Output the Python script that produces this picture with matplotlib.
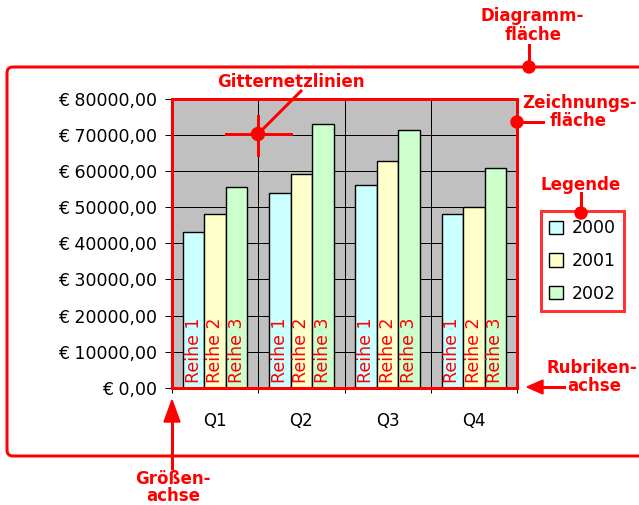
import matplotlib
matplotlib.use('Agg')
import matplotlib.pyplot as plt
from matplotlib.patches import FancyBboxPatch, Rectangle, Polygon, Circle
from matplotlib.ticker import FuncFormatter, MultipleLocator, FixedLocator

quarters = ['Q1', 'Q2', 'Q3', 'Q4']
years = ['2000', '2001', '2002']
series_names = ['Reihe 1', 'Reihe 2', 'Reihe 3']
values_2000 = [43000, 53800, 56100, 48100]
values_2001 = [48000, 59100, 62700, 50100]
values_2002 = [55600, 72900, 71300, 60900]
colors = ['#CCFFFF', '#FFFFCC', '#CCFFCC']

RED = '#FF0000'
W, H = 639, 505
px = 0.72  # 1 pixel in points at dpi 100

plt.rcParams['font.family'] = ['DejaVu Sans']

fig = plt.figure(figsize=(W / 100, H / 100), dpi=100)
fig.patch.set_facecolor('white')

# plot area in pixel coords
L, R, T, B = 172, 517, 98.5, 388
ax = fig.add_axes([L / W, 1 - B / H, (R - L) / W, (B - T) / H])
ax.set_facecolor('#C0C0C0')

bw = 0.25
series = [values_2000, values_2001, values_2002]
bars = []
for i, vals in enumerate(series):
    b = ax.bar([q + (i - 1) * bw for q in range(len(quarters))], vals, width=bw,
               color=colors[i], edgecolor='black', linewidth=1.4 * px, zorder=3,
               label=years[i])
    bars.append(b)
    for q in range(len(quarters)):
        ax.text(q + (i - 1) * bw, 1400, series_names[i], rotation=90,
                ha='center', va='bottom', color=RED, fontsize=12.5, zorder=4)

ax.set_xlim(-0.5, len(quarters) - 0.5)
ax.set_ylim(0, 80000)
ax.yaxis.set_major_locator(MultipleLocator(10000))
ax.yaxis.set_major_formatter(FuncFormatter(lambda v, p: '€ %d,00' % v))
ax.xaxis.set_major_locator(FixedLocator([q - 0.5 for q in range(len(quarters) + 1)]))
ax.xaxis.set_major_formatter(FuncFormatter(lambda v, p: ''))
ax.xaxis.set_minor_locator(FixedLocator(range(len(quarters))))
ax.set_xticklabels(quarters, minor=True)
ax.tick_params(axis='x', which='minor', length=0, pad=17, labelsize=12)
ax.tick_params(axis='x', which='major', length=5 * px, width=1 * px, direction='out')
ax.tick_params(axis='y', length=7 * px, width=1 * px, pad=6, labelsize=12.5)
ax.grid(True, color='black', linewidth=1 * px, zorder=0)
ax.set_axisbelow(True)
for s in ax.spines.values():
    s.set_visible(False)

leg = fig.legend(handles=bars, labels=years, loc='center',
                 bbox_to_anchor=(582.5 / W, 1 - 261 / H), frameon=True,
                 fancybox=False, fontsize=12.5, handlelength=0.8, handleheight=0.8,
                 handletextpad=0.5, labelspacing=0.85, borderpad=0.45)
leg.get_frame().set_edgecolor(RED)
leg.get_frame().set_linewidth(3 * px)
leg.set_zorder(4)

# overlay for the annotations, in pixel coords
ov = fig.add_axes([0, 0, 1, 1], zorder=10)
ov.set_xlim(0, W)
ov.set_ylim(H, 0)
ov.axis('off')
ov.patch.set_visible(False)

lw = 3 * px
ov.add_patch(FancyBboxPatch((7, 67), 700, 389, boxstyle='round,pad=0,rounding_size=6',
                            fill=False, edgecolor=RED, linewidth=lw))
ov.add_patch(Rectangle((L, T), R - L, B - T, fill=False, edgecolor=RED, linewidth=lw))

tk = dict(color=RED, fontsize=12, fontweight='bold', ha='center', va='center')

# Diagrammflaeche
ov.text(532, 16, 'Diagramm-', **tk)
ov.text(533, 35, 'fläche', **tk)
ov.plot([529, 529], [45, 67], color=RED, lw=lw)
ov.add_patch(Circle((529, 67), 6, color=RED))

# Gitternetzlinien
ov.text(291, 82, 'Gitternetzlinien', **tk)
ov.plot([226, 291], [134, 134], color=RED, lw=lw)
ov.plot([258, 258], [116, 155], color=RED, lw=lw)
ov.plot([258, 301], [134, 91], color=RED, lw=lw)
ov.add_patch(Circle((258, 134), 6.5, color=RED))

# Zeichnungsflaeche
ov.text(580, 103, 'Zeichnungs-', **tk)
ov.text(578, 121, 'fläche', **tk)
ov.plot([517, 543], [122, 122], color=RED, lw=lw)
ov.add_patch(Circle((517, 122), 6, color=RED))

# Legende
ov.text(581, 185, 'Legende', **tk)
ov.plot([581, 581], [193, 213], color=RED, lw=lw)
ov.add_patch(Circle((581, 213), 6, color=RED))

# Rubrikenachse
ov.text(592, 368, 'Rubriken-', **tk)
ov.text(594, 386, 'achse', **tk)
ov.plot([540, 564], [387, 387], color=RED, lw=lw)
ov.add_patch(Polygon([(527, 387), (543, 380), (543, 394)], color=RED))

# Groessenachse
ov.text(173, 479, 'Größen-', **tk)
ov.text(173, 496, 'achse', **tk)
ov.plot([172, 172], [420, 468], color=RED, lw=lw)
ov.add_patch(Polygon([(172, 400), (164, 422), (180, 422)], color=RED))

fig.savefig('out.png', dpi=100)
